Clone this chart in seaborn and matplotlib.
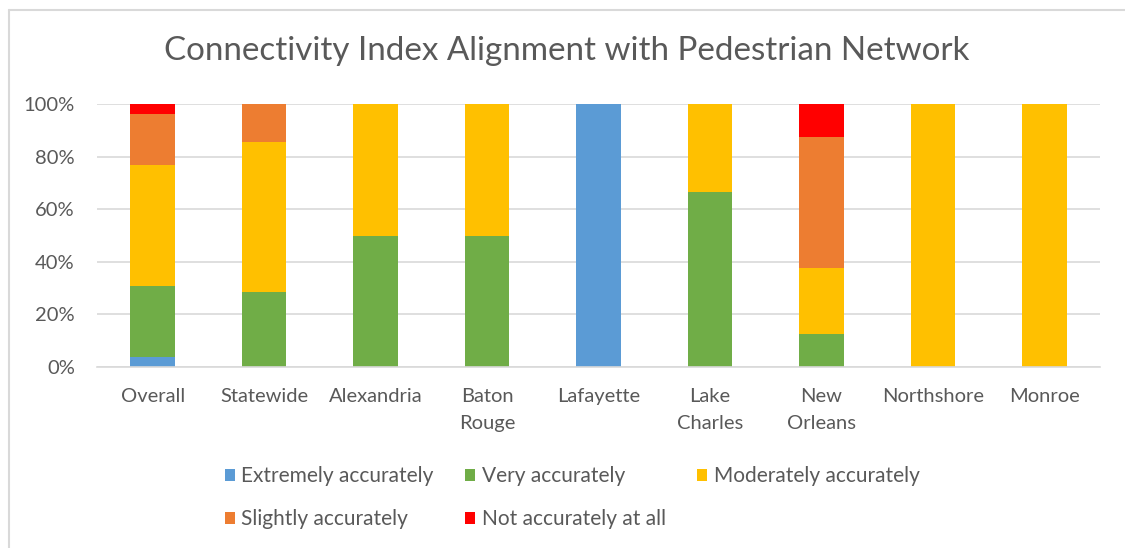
import numpy as np
import pandas as pd
import matplotlib
matplotlib.use("Agg")
import matplotlib.pyplot as plt
from matplotlib.patches import Patch
from matplotlib.lines import Line2D
import seaborn as sns

categories = ["Overall", "Statewide", "Alexandria", "Baton\nRouge", "Lafayette",
              "Lake\nCharles", "New\nOrleans", "Northshore", "Monroe"]
series_names = ["Extremely accurately", "Very accurately", "Moderately accurately",
                "Slightly accurately", "Not accurately at all"]
extremely = [3.85, 0, 0, 0, 100, 0, 0, 0, 0]
very = [26.9, 28.6, 50, 50, 0, 66.7, 12.5, 0, 0]
moderately = [46.2, 57.1, 50, 50, 0, 33.3, 25, 100, 100]
slightly = [19.2, 14.3, 0, 0, 0, 0, 50, 0, 0]
not_at_all = [3.85, 0, 0, 0, 0, 0, 12.5, 0, 0]
colors = ["#5B9BD5", "#70AD47", "#FFC000", "#ED7D31", "#FF0000"]
yticks = [0, 20, 40, 60, 80, 100]
ytick_labels = ["0%", "20%", "40%", "60%", "80%", "100%"]

sns.set_theme(style="white")
plt.rcParams["font.family"] = ["Lato", "DejaVu Sans"]
text_color = "#595959"

values = np.array([extremely, very, moderately, slightly, not_at_all])
tops = np.cumsum(values, axis=0)

fig = plt.figure(figsize=(11.25, 5.48), dpi=100)
ax = fig.add_axes([97 / 1125, 1 - 367 / 548, (1100 - 97) / 1125, (367 - 104) / 548])

for i in reversed(range(len(series_names))):
    df = pd.DataFrame({"cat": categories, "top": tops[i]})
    sns.barplot(data=df, x="cat", y="top", order=categories, color=colors[i],
                width=0.4, ax=ax, saturation=1, linewidth=0, errorbar=None)

ax.set_xlim(-0.5, len(categories) - 0.5)
ax.set_ylim(0, 100)
ax.set_yticks(yticks)
ax.set_yticklabels(ytick_labels)
ax.set_xlabel("")
ax.set_ylabel("")
ax.yaxis.grid(True, color="#D9D9D9", linewidth=1.2)
ax.set_axisbelow(True)
for s in ["top", "right", "left"]:
    ax.spines[s].set_visible(False)
ax.spines["bottom"].set_color("#D9D9D9")
ax.spines["bottom"].set_linewidth(1.2)
ax.tick_params(axis="y", length=0, pad=16, labelsize=14.5, labelcolor=text_color)
ax.tick_params(axis="x", length=0, pad=15, labelsize=14.5, labelcolor=text_color)
for lab in ax.get_xticklabels():
    lab.set_linespacing(1.7)

fig.text(0.504, 0.907, "Connectivity Index Alignment with Pedestrian Network",
         ha="center", va="center", fontsize=23.9, color=text_color)

handles = [Patch(facecolor=c, edgecolor="none") for c in colors]
order = [0, 3, 1, 4, 2]
fig.legend([handles[k] for k in order], [series_names[k] for k in order],
           loc="center", bbox_to_anchor=(0.5086, 0.0915), ncol=3, frameon=False,
           fontsize=15, labelcolor=text_color, handlelength=0.5, handleheight=0.5,
           handletextpad=0.3, columnspacing=1.5, labelspacing=1.1)

fig.add_artist(Line2D([8.5 / 1125, 8.5 / 1125], [0, 1 - 9.5 / 548],
                      transform=fig.transFigure, color="#D9D9D9", lw=1.5))
fig.add_artist(Line2D([8.5 / 1125, 1], [1 - 9.5 / 548, 1 - 9.5 / 548],
                      transform=fig.transFigure, color="#D9D9D9", lw=1.5))

fig.savefig("out.png", dpi=100)
